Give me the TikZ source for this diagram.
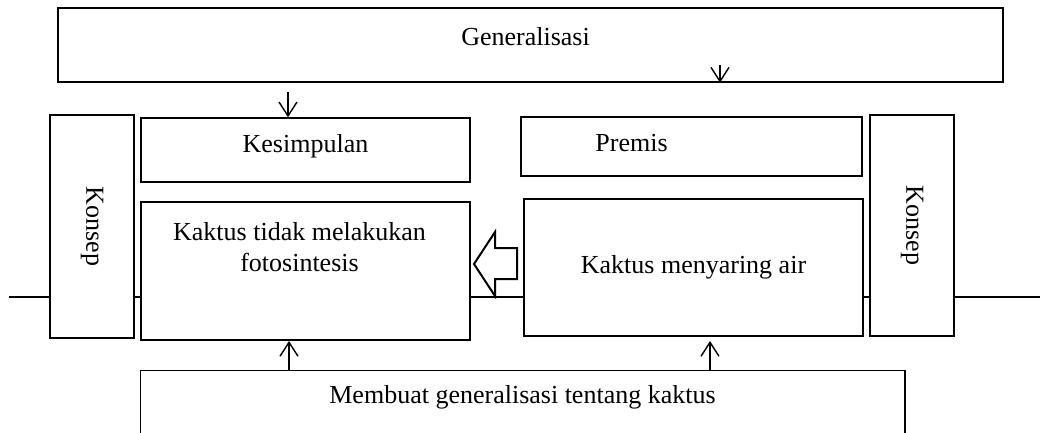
\documentclass[tikz,border=0pt]{standalone}
\usepackage{fontspec}
\setmainfont{Liberation Serif}
\usetikzlibrary{arrows.meta}

\begin{document}
\begin{tikzpicture}[x=0.5pt,y=-0.5pt,>/.tip={Straight Barb[length=7pt,width=9pt]},
	every node/.style={font=\fontsize{13}{15.5}\selectfont},
	line width=0.7pt,
	box/.style={draw,fill=white,inner sep=0pt,align=center}]
\clip (0,0) rectangle (1060,433);
% garis mendatar di belakang kotak
\coordinate (lineL) at (9,297);
\coordinate (lineR) at (1040,297);
\draw (lineL) -- (lineR);
\draw (530.5,45) node[box,minimum width=472.5pt,minimum height=37pt,
	label={[xshift=-2.5pt,yshift=4pt]center:Generalisasi}] (gen) {};
\draw (305.5,150) node[box,minimum width=164.5pt,minimum height=32pt,
	label={[yshift=2pt]center:Kesimpulan}] (kesim) {};
\draw (305.5,271) node[box,minimum width=164.5pt,minimum height=69pt,
	label={[xshift=-3pt,yshift=12pt,align=center]center:Kaktus tidak melakukan\\fotosintesis}] (fotos) {};
\draw (691.5,146.5) node[box,minimum width=170.5pt,minimum height=29.5pt,
	label={[xshift=-30pt,yshift=1.5pt]center:Premis}] (premis) {};
\draw (693.5,267.5) node[box,minimum width=169.5pt,minimum height=68.5pt] (air) {Kaktus menyaring air};
\foreach \n/\x/\y/\h in {konsepL/92/226.5/111.5,konsepR/912/225.5/110.5}
	\draw (\x,\y) node[box,minimum width=42pt,minimum height=\h pt] (\n) {\rotatebox{-90}{Konsep}};
\draw (522.5,418) node[minimum width=381.5pt,minimum height=47pt,inner sep=0pt,
	label={[yshift=10.5pt]center:Membuat generalisasi tentang kaktus}] (membuat) {};
\draw[line width=0.8pt] (membuat.south west) -- (membuat.north west) -- (membuat.north east) -- (membuat.south east);
% panah ke bawah
\coordinate (d1) at (288,92);
\coordinate (d2) at (720,65);
\draw[->] (d1) -- (d1 |- kesim.north);
\draw[->] (d2) -- (d2 |- gen.south);
% panah ke atas
\foreach \i/\x in {1/289,2/710} {
	\coordinate (u\i) at (\x,341);
	\draw[->] (u\i |- membuat.north) -- (u\i);
}
% panah tebal kosong
\draw[line width=1pt] (474,264) -- (495,232) -- (495,248) -- (517,248) -- (517,279)
	-- (495,279) -- (495,296) -- cycle;
\end{tikzpicture}
\end{document}
